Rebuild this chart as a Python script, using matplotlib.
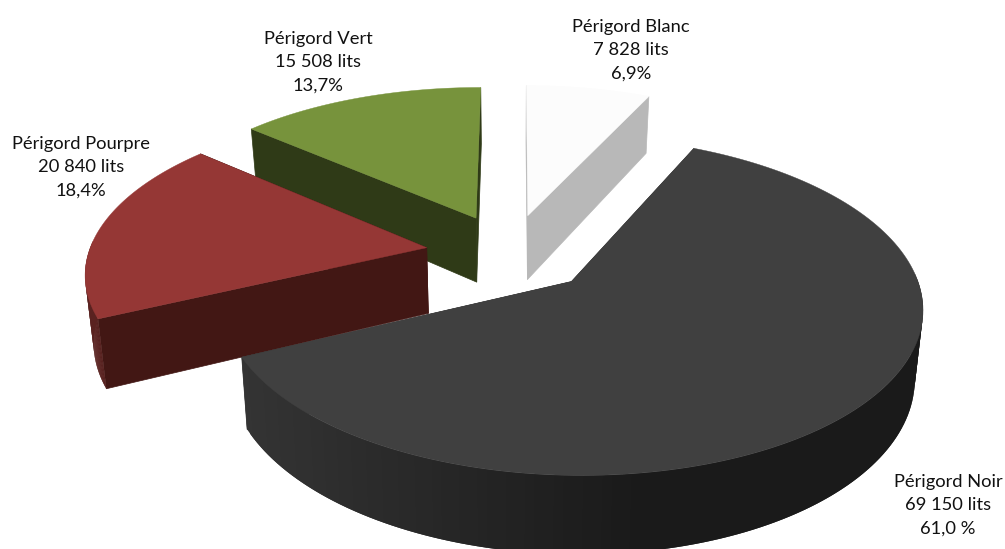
import numpy as np
from matplotlib import pyplot as plt
from matplotlib.colors import to_rgb

plt.rcParams['font.family'] = ['Lato', 'DejaVu Sans']

# data
categories = ['Périgord Noir', 'Périgord Pourpre', 'Périgord Vert', 'Périgord Blanc']
lits = [69150, 20840, 15508, 7828]
lits_labels = ['69 150 lits', '20 840 lits', '15 508 lits', '7 828 lits']
pct_labels = ['61,0 %', '18,4%', '13,7%', '6,9%']

# styles
top_colors = ['#404040', '#953735', '#77933c', '#fcfcfc']
cut_colors = ['#2e2e2e', '#421714', '#2f3a17', '#b8b8b8']
rim_left = ['#343434', '#5a2220', '#3c4a1e', '#8c8c8c']
rim_right = ['#1a1a1a', '#4a1a18', '#2f3a17', '#b8b8b8']
label_pos = [(948, 505), (81, 167), (318, 62), (631, 50)]

# projection settings (pixels)
start_angle = 65.0
explode = 0.25
cx, cy = 510, 253
rx, ry = 338, 158
persp = 0.14
depth = 66
squeeze = 0.98


def project(X, Y):
    s = 1 / (1 + persp * Y)
    return cx + rx * X * s, cy - ry * Y * s, s


def bottom(X, Y):
    x, y, s = project(X, Y)
    return cx + (x - cx) * squeeze, y + depth * s


fig = plt.figure(figsize=(10.05, 5.49), dpi=100)
ax = fig.add_axes([0, 0, 1, 1])
ax.set_xlim(0, 1005)
ax.set_ylim(549, 0)
ax.axis('off')

fractions = np.array(lits) / sum(lits)
ends = start_angle - np.cumsum(fractions) * 360
starts = ends + fractions * 360

# paint the back slices first, the big one last
for order, i in enumerate([2, 3, 1, 0]):
    mid = np.radians((starts[i] + ends[i]) / 2)
    X0 = explode * np.cos(mid)
    Y0 = explode * np.sin(mid)
    t = np.radians(np.linspace(starts[i], ends[i], 160))
    X = X0 + np.cos(t)
    Y = Y0 + np.sin(t)

    x_top, y_top, _ = project(X, Y)
    x_bot, y_bot = bottom(X, Y)
    ax0, ay0, _ = project(X0, Y0)
    bx0, by0 = bottom(X0, Y0)

    # cut faces
    for k in [0, -1]:
        ax.fill([ax0, x_top[k], x_bot[k], bx0], [ay0, y_top[k], y_bot[k], by0],
                color=cut_colors[i], lw=0.5, zorder=order * 10 + 1)

    # outer rim, only the part turned to the viewer, shaded from left to right
    lo, hi = x_top.min(), x_top.max()
    c0 = np.array(to_rgb(rim_left[i]))
    c1 = np.array(to_rgb(rim_right[i]))
    for j in range(len(t) - 2):
        if np.sin(t[j]) > 0.05 or np.sin(t[j + 2]) > 0.05:
            continue
        f = min(1, 1.7 * (x_top[j] - lo) / (hi - lo))
        col = c0 + (c1 - c0) * f
        # each quad overlaps the next so no seams show
        ax.fill([x_top[j], x_top[j + 2], x_bot[j + 2], x_bot[j]],
                [y_top[j], y_top[j + 2], y_bot[j + 2], y_bot[j]],
                color=col, lw=0, zorder=order * 10 + 2)

    # top face
    ax.fill(np.r_[ax0, x_top], np.r_[ay0, y_top], color=top_colors[i], lw=0.3,
            zorder=order * 10 + 3)

for i in range(4):
    ax.text(label_pos[i][0], label_pos[i][1],
            categories[i] + '\n' + lits_labels[i] + '\n' + pct_labels[i],
            ha='center', va='center', fontsize=13.2, color='#111111',
            linespacing=1.55, zorder=100)

fig.savefig('out.png', dpi=100)
